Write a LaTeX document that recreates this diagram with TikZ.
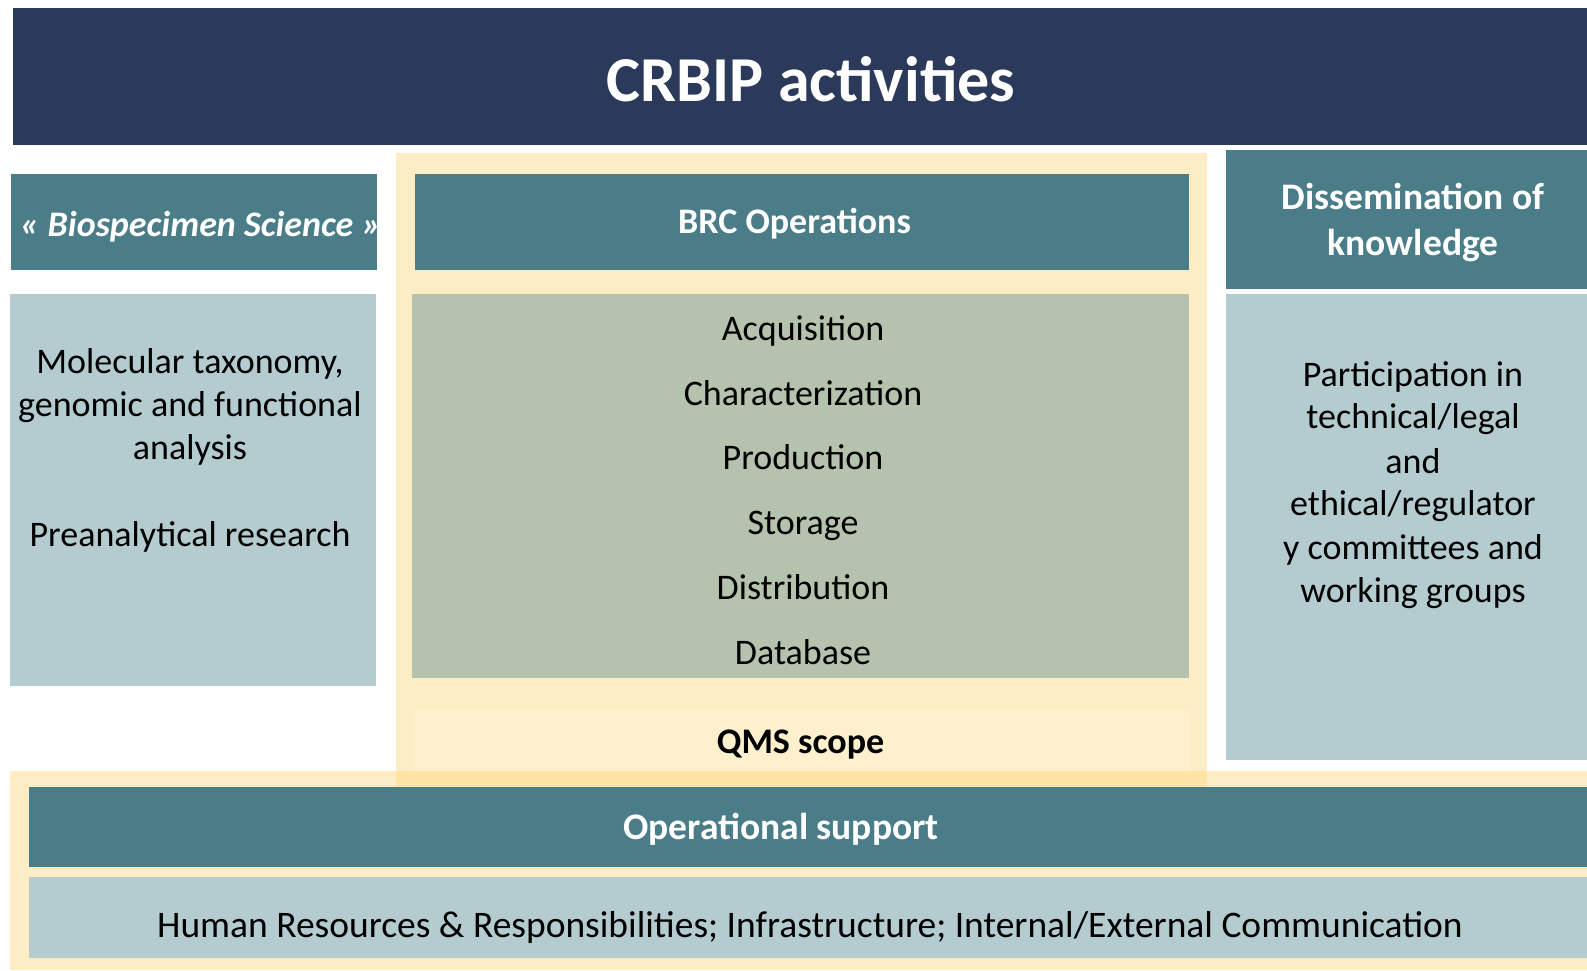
\documentclass[tikz,border=0pt]{standalone}
\usepackage{fontspec}
\setmainfont{Carlito}
\definecolor{navy}{HTML}{2B3A5A}
\definecolor{teal}{HTML}{4A7D88}
\definecolor{lightblue}{HTML}{B4CCD0}
\definecolor{sage}{HTML}{B5C3AE}
\definecolor{cream}{HTML}{FDEDC4}
\definecolor{creamdark}{HTML}{FFE4A6}
\definecolor{creamlight}{HTML}{FEF0CC}
\tikzset{
  hdr/.style={anchor=base,text=white,font=\fontsize{36}{43}\selectfont\bfseries,inner sep=0pt},
  bighdr/.style={hdr,font=\fontsize{37.5}{45}\selectfont\bfseries},
  body/.style={anchor=base,text=black,font=\fontsize{36}{43}\selectfont,inner sep=0pt},
}
\begin{document}
\begin{tikzpicture}[x=1pt,y=-1pt]
\useasboundingbox (0,0) rectangle (1587,970);
% title
\fill[navy] (13,8) rectangle (1587,145);
\node[hdr,font=\fontsize{64}{70}\selectfont\bfseries] (title) at (811,101.5) {CRBIP activities};
% left column
\fill[teal] (11,174) rectangle (377,270);
\begin{scope}
\clip (11,174) rectangle (377,270);
\node[hdr,anchor=base west,font=\fontsize{36}{43}\selectfont\bfseries\itshape] (bio) at (20,236) {«~Biospecimen Science »};
\end{scope}
\fill[lightblue] (10,294) rectangle (376,686);
\node[body] (l1) at (190,373.5) {Molecular taxonomy,};
\node[body] (l2) at (190,416.5) {genomic and functional};
\node[body] (l3) at (190,459.5) {analysis};
\node[body] (l4) at (190,546.5) {Preanalytical research};
% QMS column and bottom band
\fill[cream] (396,153) rectangle (1207,787);
\fill[cream] (10,771) rectangle (1587,970);
\fill[creamdark] (396,771) rectangle (1207,787);
\fill[teal] (415,174) rectangle (1189,270);
\node[hdr] (brc) at (794.5,233) {BRC Operations};
\fill[sage] (412,294) rectangle (1189,678);
\node[body] (m1) at (803,340.5) {Acquisition};
\node[body] (m2) at (803,405.5) {Characterization};
\node[body] (m3) at (803,469.5) {Production};
\node[body] (m4) at (803,534.5) {Storage};
\node[body] (m5) at (803,599.5) {Distribution};
\node[body] (m6) at (803,664.5) {Database};
\fill[creamlight] (413,710) rectangle (1189,771);
\node[body,font=\fontsize{36}{43}\selectfont\bfseries] (qms) at (800.5,753.5) {QMS scope};
% right column
\fill[teal] (1226,150) rectangle (1587,289);
\node[bighdr] (d1) at (1413,209) {Dissemination of};
\node[bighdr] (d2) at (1413,255) {knowledge};
\fill[lightblue] (1226,294) rectangle (1587,760);
\node[body] (r1) at (1413,386) {Participation in};
\node[body] (r2) at (1413,428.5) {technical/legal};
\node[body] (r3) at (1413,473) {and};
\node[body] (r4) at (1413,515.5) {ethical/regulator};
\node[body] (r5) at (1413,559) {y committees and};
\node[body] (r6) at (1413,602.5) {working groups};
% bottom
\fill[teal] (29,787) rectangle (1587,867);
\node[bighdr] (ops) at (781,839) {Operational support};
\fill[lightblue] (29,877) rectangle (1587,958);
\node[body,font=\fontsize{37.5}{45}\selectfont] (hr) at (810,937) {Human Resources \& Responsibilities; Infrastructure; Internal/External Communication};
\end{tikzpicture}
\end{document}
